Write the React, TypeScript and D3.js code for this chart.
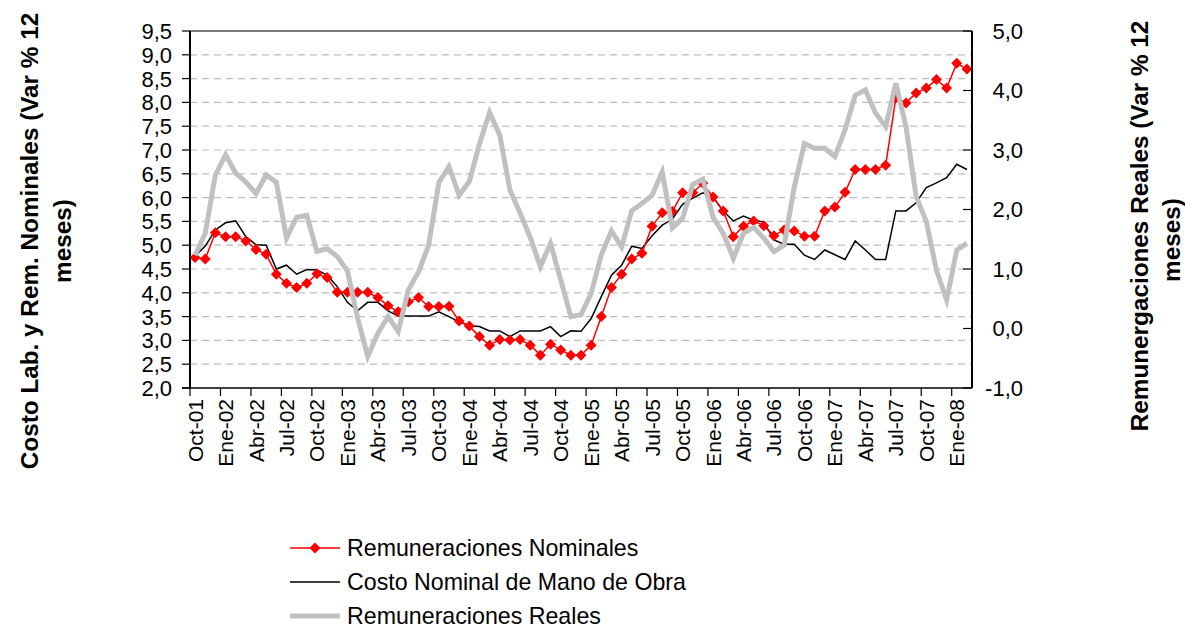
import React from "react";
import * as d3 from "d3";

const categories = [
  "Oct-01","Nov-01","Dic-01",
  "Ene-02","Feb-02","Mar-02","Abr-02","May-02","Jun-02","Jul-02","Ago-02","Sep-02","Oct-02","Nov-02","Dic-02",
  "Ene-03","Feb-03","Mar-03","Abr-03","May-03","Jun-03","Jul-03","Ago-03","Sep-03","Oct-03","Nov-03","Dic-03",
  "Ene-04","Feb-04","Mar-04","Abr-04","May-04","Jun-04","Jul-04","Ago-04","Sep-04","Oct-04","Nov-04","Dic-04",
  "Ene-05","Feb-05","Mar-05","Abr-05","May-05","Jun-05","Jul-05","Ago-05","Sep-05","Oct-05","Nov-05","Dic-05",
  "Ene-06","Feb-06","Mar-06","Abr-06","May-06","Jun-06","Jul-06","Ago-06","Sep-06","Oct-06","Nov-06","Dic-06",
  "Ene-07","Feb-07","Mar-07","Abr-07","May-07","Jun-07","Jul-07","Ago-07","Sep-07","Oct-07","Nov-07","Dic-07",
  "Ene-08","Feb-08",
];

const remNominales = [
  4.74, 4.71, 5.26, 5.18, 5.18, 5.09, 4.91, 4.81, 4.39, 4.2, 4.11, 4.2,
  4.4, 4.32, 4.01, 4.01, 4.01, 4.01, 3.9, 3.73, 3.6, 3.81, 3.9, 3.71,
  3.71, 3.72, 3.41, 3.3, 3.08, 2.9, 3.02, 3.01, 3.02, 2.9, 2.69, 2.92,
  2.8, 2.69, 2.69, 2.9, 3.5, 4.11, 4.39, 4.71, 4.83, 5.4, 5.68, 5.71,
  6.1, 6.1, 6.3, 6.01, 5.72, 5.18, 5.4, 5.51, 5.41, 5.2, 5.32, 5.3,
  5.19, 5.19, 5.72, 5.8, 6.11, 6.59, 6.59, 6.59, 6.68, 8.09, 7.99, 8.2,
  8.3, 8.48, 8.3, 8.82, 8.7,
];

const costoNominal = [
  4.77, 4.98, 5.32, 5.47, 5.51, 5.18, 5.01, 5.0, 4.5, 4.58, 4.39, 4.49,
  4.48, 4.37, 4.13, 3.8, 3.62, 3.8, 3.8, 3.62, 3.51, 3.51, 3.51, 3.51,
  3.6, 3.5, 3.39, 3.31, 3.29, 3.2, 3.2, 3.08, 3.2, 3.2, 3.2, 3.29,
  3.08, 3.2, 3.19, 3.46, 3.92, 4.37, 4.58, 4.98, 4.93, 5.2, 5.42, 5.55,
  5.86, 5.99, 6.1, 6.01, 5.72, 5.51, 5.61, 5.52, 5.49, 5.11, 5.02, 5.02,
  4.79, 4.7, 4.9, 4.8, 4.7, 5.09, 4.9, 4.7, 4.7, 5.72, 5.72, 5.89,
  6.21, 6.31, 6.42, 6.7, 6.59,
];

const remReales = [
  1.23, 1.6, 2.58, 2.92, 2.61, 2.46, 2.27, 2.58, 2.46, 1.52, 1.87, 1.9,
  1.3, 1.34, 1.21, 0.97, 0.18, -0.47, -0.08, 0.2, -0.05, 0.65, 0.95, 1.4,
  2.45, 2.72, 2.24, 2.47, 3.1, 3.63, 3.25, 2.33, 1.94, 1.53, 1.04, 1.43,
  0.82, 0.2, 0.23, 0.59, 1.24, 1.64, 1.37, 1.98, 2.1, 2.24, 2.63, 1.69,
  1.85, 2.42, 2.51, 1.87, 1.6, 1.18, 1.6, 1.7, 1.52, 1.29, 1.4, 2.38,
  3.11, 3.03, 3.03, 2.89, 3.34, 3.92, 4.01, 3.62, 3.39, 4.12, 3.39, 2.22,
  1.8, 0.98, 0.48, 1.32, 1.43,
];

const leftTicks = [2.0, 2.5, 3.0, 3.5, 4.0, 4.5, 5.0, 5.5, 6.0, 6.5, 7.0, 7.5, 8.0, 8.5, 9.0, 9.5];
const rightTicks = [-1, 0, 1, 2, 3, 4, 5];

const seriesNames = [
  "Remuneraciones Nominales",
  "Costo Nominal de Mano de Obra",
  "Remuneraciones Reales",
];

const leftTitle = ["Costo Lab. y Rem. Nominales (Var % 12", "meses)"];
const rightTitle = ["Remunergaciones Reales (Var % 12", "meses)"];

const W = 1185;
const H = 628;
const L = 190;
const R = 972;
const T = 31;
const B = 388;
const FONT = "'Liberation Sans', Arial, Helvetica, sans-serif";

const locale = d3.formatLocale({
  decimal: ",",
  thousands: ".",
  grouping: [3],
  currency: ["", ""],
  minus: "-",
});
const fmt = locale.format(".1f");

const diamond = (s: number) => `M0,${-s}L${s},0L0,${s}L${-s},0Z`;

export default function App() {
  const x = d3.scaleBand<string>().domain(categories).range([L, R]).padding(0);
  const bw = x.bandwidth();
  const cx = (i: number) => (x(categories[i]) as number) + bw / 2;
  const yL = d3.scaleLinear().domain([2, 9.5]).range([B, T]);
  const yR = d3.scaleLinear().domain([-1, 5]).range([B, T]);

  const lineL = d3
    .line<number>()
    .x((_, i) => cx(i))
    .y((d) => yL(d));
  const lineR = d3
    .line<number>()
    .x((_, i) => cx(i))
    .y((d) => yR(d));

  const tickIdx = categories.map((_, i) => i).filter((i) => i % 3 === 0);

  return (
    <svg
      width={W}
      height={H}
      style={{ position: "absolute", left: 0, top: 0, background: "#fff" }}
      fontFamily={FONT}
    >
      <rect x={0} y={0} width={W} height={H} fill="#fff" />
      {leftTicks
        .filter((t) => t > 2 && t < 9.5)
        .map((t) => (
          <line
            key={"g" + t}
            x1={L}
            x2={R}
            y1={yL(t)}
            y2={yL(t)}
            stroke="#bdbdbd"
            strokeWidth={1.2}
            strokeDasharray="7,5"
          />
        ))}
      <line x1={L} x2={R} y1={T} y2={T} stroke="#7a7a7a" strokeWidth={2} />

      <path d={lineL(costoNominal) || ""} fill="none" stroke="#000" strokeWidth={1.5} />
      <path d={lineL(remNominales) || ""} fill="none" stroke="#ff0000" strokeWidth={1.5} />
      {remNominales.map((d, i) => (
        <path key={"m" + i} d={diamond(5.5)} transform={`translate(${cx(i)},${yL(d)})`} fill="#ff0000" />
      ))}
      <path d={lineR(remReales) || ""} fill="none" stroke="#c0c0c0" strokeWidth={5} />

      <line x1={L} x2={L} y1={T} y2={B} stroke="#000" strokeWidth={2} />
      <line x1={R} x2={R} y1={T} y2={B} stroke="#000" strokeWidth={2} />
      <line x1={L - 8} x2={R} y1={B} y2={B} stroke="#000" strokeWidth={1.5} />

      {leftTicks.map((t) => (
        <g key={"lt" + t}>
          <line x1={L - 8} x2={L} y1={yL(t)} y2={yL(t)} stroke="#000" strokeWidth={1.2} />
          <text x={172} y={yL(t)} dy="0.36em" textAnchor="end" fontSize={22} fill="#000">
            {fmt(t)}
          </text>
        </g>
      ))}
      {rightTicks.map((t) => (
        <g key={"rt" + t}>
          <line x1={R - 9} x2={R} y1={yR(t)} y2={yR(t)} stroke="#000" strokeWidth={1.2} />
          <text x={1023} y={yR(t)} dy="0.36em" textAnchor="end" fontSize={22} fill="#000">
            {fmt(t)}
          </text>
        </g>
      ))}

      {tickIdx.map((i) => {
        const tx = x(categories[i]) as number;
        return (
          <g key={"xt" + i}>
            <line x1={tx} x2={tx} y1={B} y2={B + 8} stroke="#000" strokeWidth={1.2} />
            <text
              transform={`translate(${cx(i) + 7.5},${399}) rotate(-90)`}
              textAnchor="end"
              fontSize={21}
              fill="#000"
            >
              {categories[i]}
            </text>
          </g>
        );
      })}

      <text transform={`translate(38,241) rotate(-90)`} textAnchor="middle" fontSize={24.3} fontWeight="bold" fill="#000">
        {leftTitle[0]}
      </text>
      <text transform={`translate(71,241) rotate(-90)`} textAnchor="middle" fontSize={24.3} fontWeight="bold" fill="#000">
        {leftTitle[1]}
      </text>
      <text transform={`translate(1148,226) rotate(-90)`} textAnchor="middle" fontSize={24.3} fontWeight="bold" fill="#000">
        {rightTitle[0]}
      </text>
      <text transform={`translate(1180,240) rotate(-90)`} textAnchor="middle" fontSize={24.3} fontWeight="bold" fill="#000">
        {rightTitle[1]}
      </text>

      <g>
        <line x1={290} x2={340} y1={548} y2={548} stroke="#ff0000" strokeWidth={1.5} />
        <path d={diamond(5.5)} transform="translate(315,548)" fill="#ff0000" />
        <text x={347} y={548} dy="0.36em" fontSize={23.2} fill="#000">
          {seriesNames[0]}
        </text>
        <line x1={290} x2={340} y1={582} y2={582} stroke="#000" strokeWidth={1.5} />
        <text x={347} y={582} dy="0.36em" fontSize={23.2} fill="#000">
          {seriesNames[1]}
        </text>
        <line x1={290} x2={340} y1={616} y2={616} stroke="#c0c0c0" strokeWidth={5} />
        <text x={347} y={616} dy="0.36em" fontSize={23.2} fill="#000">
          {seriesNames[2]}
        </text>
      </g>
    </svg>
  );
}
